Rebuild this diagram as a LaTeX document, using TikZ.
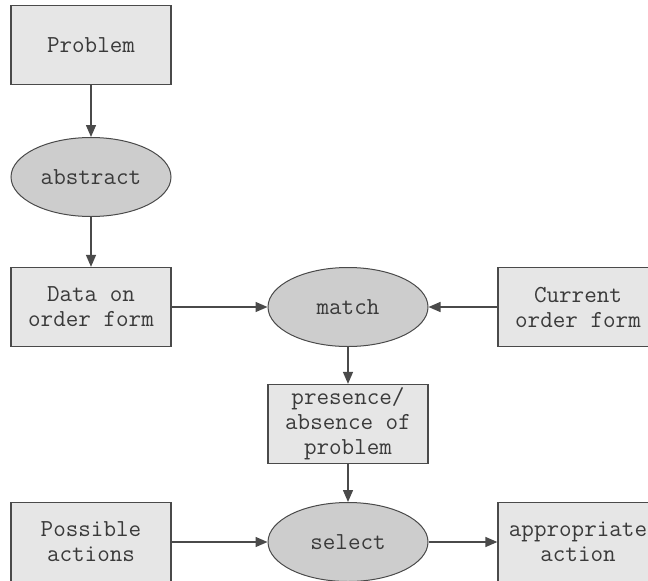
\documentclass[tikz,border=0pt]{standalone}
\usepackage{fontspec}
\usetikzlibrary{shapes.geometric,arrows.meta}
\definecolor{boxfill}{HTML}{E6E6E6}
\definecolor{ovalfill}{HTML}{CDCDCD}
\definecolor{edgegray}{HTML}{4A4A4A}
\definecolor{txtgray}{HTML}{3A3A3A}
\begin{document}
\begin{tikzpicture}[x=1pt,y=-1pt,
  every node/.style={font=\ttfamily\fontsize{24.4}{25}\selectfont, text=txtgray, align=center, inner sep=0pt},
  procbox/.style={rectangle, draw=edgegray, line width=1.3pt, fill=boxfill, minimum width=160pt, minimum height=79pt},
  oval/.style={ellipse, draw=edgegray, line width=1pt, fill=ovalfill, minimum width=160pt, minimum height=79pt},
  flow/.style={draw=edgegray, line width=1.4pt, -{Triangle[length=12pt,width=10pt]}}]
  \useasboundingbox (0,0) rectangle (648,581);
  \clip (0,0) rectangle (648,581);

  % left column
  \node[procbox] (problem)  at (91,45)   {Problem};
  \node[oval]    (abstract) at (91,177)  {abstract};
  \node[procbox] (data)     at (91,307)  {Data on\\order form};

  % middle column
  \node[oval]    (match)    at (348,307) {match};
  \node[procbox] (presence) at (348,424) {presence/\\absence of\\problem};
  \node[oval]    (select)   at (348,542) {select};

  % right and bottom boxes
  \node[procbox] (current)  at (578,307) {Current\\order form};
  \node[procbox] (possible) at (91,542)  {Possible\\actions};
  \node[procbox] (approp)   at (578,542) {appropriate\\action};

  % connectors
  \draw[flow] (problem) -- (abstract);
  \draw[flow] (abstract) -- (data);
  \draw[flow] (data) -- (match);
  \draw[flow] (current) -- (match);
  \draw[flow] (match) -- (presence);
  \draw[flow] (presence) -- (select);
  \draw[flow] (possible) -- (select);
  \draw[flow] (select) -- (approp);
\end{tikzpicture}
\end{document}
